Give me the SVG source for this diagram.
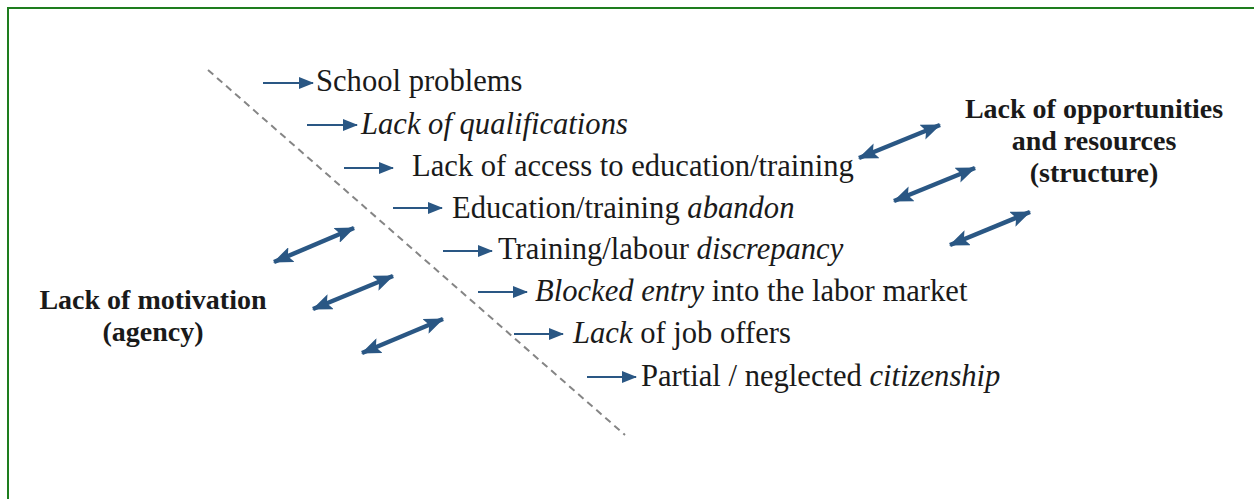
<svg xmlns="http://www.w3.org/2000/svg" width="1254" height="499" viewBox="0 0 1254 499">
<defs>
<style>
.t{font-family:"Liberation Serif","Times New Roman",serif;font-size:30.6px;fill:#1a1a1a}
.i{font-style:italic}
.b{font-family:"Liberation Serif","Times New Roman",serif;font-size:28px;font-weight:bold;fill:#1a1a1a;text-anchor:middle}
.s{stroke:#2a5784;stroke-width:2.2;fill:none}
.d{stroke:#2a5784;stroke-width:4.5;fill:none}
</style>
<marker id="ah" markerUnits="userSpaceOnUse" markerWidth="15" markerHeight="12" refX="14" refY="6" orient="auto" viewBox="0 0 15 12">
<path d="M0,0 L15,6 L0,12 z" fill="#2a5784"/>
</marker>
<marker id="dh" markerUnits="userSpaceOnUse" markerWidth="20" markerHeight="16" refX="19" refY="8" orient="auto-start-reverse" viewBox="0 0 20 16">
<path d="M0,0 L20,8 L0,16 L4,8 z" fill="#2a5784"/>
</marker>
</defs>
<rect width="1254" height="499" fill="#ffffff"/>
<rect x="8" y="8" width="1270" height="520" fill="none" stroke="#1e7d1e" stroke-width="2"/>
<g id="divider">
<line x1="208" y1="70" x2="625" y2="435" stroke="#858585" stroke-width="2" stroke-dasharray="7,5"/>
</g>
<g id="connectors">
<line class="s" x1="263" y1="83" x2="313" y2="83" marker-end="url(#ah)"/>
<line class="s" x1="307" y1="125" x2="357" y2="125" marker-end="url(#ah)"/>
<line class="s" x1="344" y1="168" x2="393" y2="168" marker-end="url(#ah)"/>
<line class="s" x1="393" y1="208" x2="442" y2="208" marker-end="url(#ah)"/>
<line class="s" x1="443" y1="251" x2="492" y2="251" marker-end="url(#ah)"/>
<line class="s" x1="478" y1="292" x2="527" y2="292" marker-end="url(#ah)"/>
<line class="s" x1="514" y1="334" x2="563" y2="334" marker-end="url(#ah)"/>
<line class="s" x1="587" y1="377" x2="636" y2="377" marker-end="url(#ah)"/>
<line class="d" x1="274" y1="262" x2="354" y2="228" marker-start="url(#dh)" marker-end="url(#dh)"/>
<line class="d" x1="313" y1="309" x2="393" y2="276" marker-start="url(#dh)" marker-end="url(#dh)"/>
<line class="d" x1="362" y1="353" x2="443" y2="319" marker-start="url(#dh)" marker-end="url(#dh)"/>
<line class="d" x1="859" y1="158" x2="940" y2="125" marker-start="url(#dh)" marker-end="url(#dh)"/>
<line class="d" x1="894" y1="201" x2="975" y2="168" marker-start="url(#dh)" marker-end="url(#dh)"/>
<line class="d" x1="950" y1="245" x2="1030" y2="212" marker-start="url(#dh)" marker-end="url(#dh)"/>
</g>
<g id="n1"><text class="t" x="316" y="91">School problems</text></g>
<g id="n2"><text class="t i" x="361" y="134">Lack of qualifications</text></g>
<g id="n3"><text class="t" x="412" y="176">Lack of access to education/training</text></g>
<g id="n4"><text class="t" x="452" y="218">Education/training <tspan class="i">abandon</tspan></text></g>
<g id="n5"><text class="t" x="498" y="259">Training/labour <tspan class="i">discrepancy</tspan></text></g>
<g id="n6"><text class="t" x="535" y="301"><tspan class="i">Blocked entry</tspan> into the labor market</text></g>
<g id="n7"><text class="t" x="573" y="343"><tspan class="i">Lack</tspan> of job offers</text></g>
<g id="n8"><text class="t" x="641" y="386">Partial / neglected <tspan class="i">citizenship</tspan></text></g>
<g id="agency">
<text class="b" x="153" y="309">Lack of motivation</text>
<text class="b" x="153" y="341">(agency)</text>
</g>
<g id="structure">
<text class="b" x="1094" y="118">Lack of opportunities</text>
<text class="b" x="1094" y="150">and resources</text>
<text class="b" x="1094" y="182">(structure)</text>
</g>
</svg>
